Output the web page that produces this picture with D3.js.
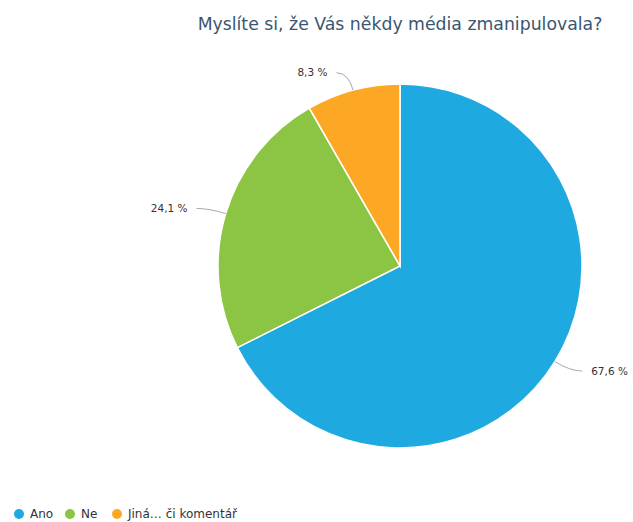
<!DOCTYPE html>
<html>
<head>
<meta charset="utf-8">
<script src="https://cdn.jsdelivr.net/npm/d3@7"></script>
<style>
  body { margin: 0; background: #fff; }
  text { font-family: "DejaVu Sans", sans-serif; }
</style>
</head>
<body>
<div id="chart"></div>
<script>
// data
var categories = ["Ano", "Ne", "Jiná… či komentář"];
var values = [67.6, 24.1, 8.3];
var labels = ["67,6 %", "24,1 %", "8,3 %"];
var colors = ["#1fa9e1", "#8bc543", "#fda824"];

var w = 633, h = 522;
var cx = 400, cy = 266, r = 182;

var svg = d3.select("#chart").append("svg")
    .attr("width", w)
    .attr("height", h);

// title
svg.append("text")
    .attr("x", 400)
    .attr("y", 30)
    .attr("text-anchor", "middle")
    .style("font-size", "17.3px")
    .style("fill", "#3b5670")
    .text("Myslíte si, že Vás někdy média zmanipulovala?");

var data = categories.map(function(c, i) {
    return { name: c, value: values[i], label: labels[i], color: colors[i] };
});

var pie = d3.pie().sort(null).value(function(d) { return d.value; });
var arc = d3.arc().innerRadius(0).outerRadius(r);

var g = svg.append("g").attr("transform", "translate(" + cx + "," + cy + ")");

var arcs = pie(data);

g.selectAll("path")
    .data(arcs)
    .enter()
    .append("path")
    .attr("d", arc)
    .style("fill", function(d) { return d.data.color; })
    .style("stroke", "#fff")
    .style("stroke-width", 1.5);

// connectors + labels
function pt(a, rr) { return [Math.sin(a) * rr, -Math.cos(a) * rr]; }

arcs.forEach(function(d) {
    var a = (d.startAngle + d.endAngle) / 2;
    var p0 = pt(a, r);
    var p1 = pt(a, r + 18);
    var side = Math.sin(a) >= 0 ? 1 : -1;
    var p2 = [p1[0] + side * 12, p1[1]];
    g.append("path")
        .attr("d", "M" + p0 + "Q" + p1 + " " + p2)
        .style("fill", "none")
        .style("stroke", "#a8a8a8")
        .style("stroke-width", 1);
    g.append("text")
        .attr("x", p2[0] + side * 9)
        .attr("y", p2[1])
        .attr("dy", "0.35em")
        .attr("text-anchor", side > 0 ? "start" : "end")
        .style("font-size", "10.5px")
        .style("fill", "#333")
        .text(d.data.label);
});

// legend
var lx = [19, 70, 117];
var legend = svg.append("g").selectAll("g")
    .data(data)
    .enter()
    .append("g")
    .attr("transform", function(d, i) { return "translate(" + lx[i] + ",514)"; });

legend.append("circle")
    .attr("r", 5)
    .style("fill", function(d) { return d.color; });

legend.append("text")
    .attr("x", 11)
    .attr("dy", "0.35em")
    .style("font-size", "12px")
    .style("fill", "#333")
    .text(function(d) { return d.name; });
</script>
</body>
</html>
